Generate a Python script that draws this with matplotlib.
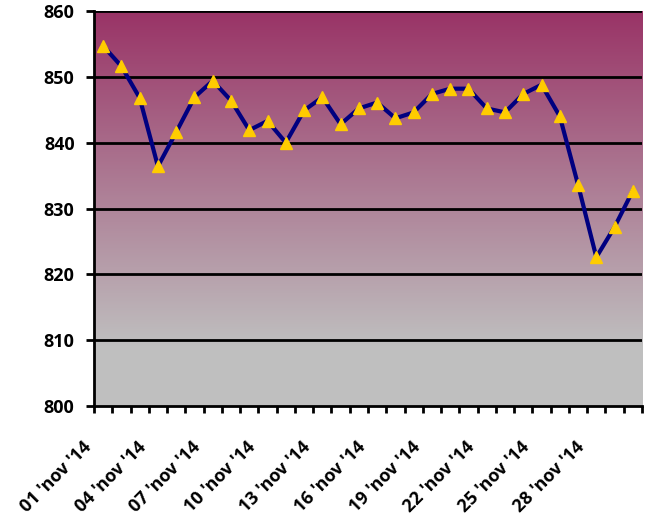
import numpy as np
import matplotlib
matplotlib.use("Agg")
import matplotlib.pyplot as plt
from matplotlib.colors import LinearSegmentedColormap
import matplotlib.transforms as mtransforms

# ----------------------- Data ---------------------------
days = [f"{d:02d} 'nov '14" for d in range(1, 31)]
values = [854.7, 851.6, 846.8, 836.4, 841.6, 846.9, 849.4, 846.4, 841.9, 843.3,
          840.0, 844.9, 846.9, 842.8, 845.2, 846.1, 843.7, 844.6, 847.4, 848.2,
          848.2, 845.2, 844.6, 847.4, 848.8, 844.0, 833.6, 822.6, 827.2, 832.7]
label_every = 3

plt.rcParams['font.family'] = ['Open Sans', 'DejaVu Sans']

# ----------------------- Plotting ---------------------------
fig = plt.figure(figsize=(6.46, 5.21), dpi=100)
ax = fig.add_axes([0.1455, 0.2207, 0.8483, 0.7582])

x = np.arange(len(values))
ax.set_xlim(-0.5, len(values) - 0.5)
ax.set_ylim(800, 860)

# gradient background (gray at bottom -> plum at top)
cmap = LinearSegmentedColormap.from_list("bg", [(0.0, "#c0c0c0"), (0.15, "#bfbfbf"), (1.0, "#993366")])
grad = np.linspace(0, 1, 256).reshape(-1, 1)
ax.imshow(grad, aspect="auto", cmap=cmap, origin="lower",
          extent=(-0.5, len(values) - 0.5, 800, 860), zorder=0)

# gridlines
for yv in range(810, 861, 10):
    ax.axhline(yv, color="black", linewidth=2, zorder=1)

ax.plot(x, values, color="#000080", linewidth=3, zorder=3)
ax.plot(x, values, linestyle="none", marker="^", markersize=8,
        markerfacecolor="#ffcc00", markeredgecolor="#ffcc00", zorder=4)

# axes styling
for side in ["top", "right"]:
    ax.spines[side].set_visible(False)
for side in ["left", "bottom"]:
    ax.spines[side].set_linewidth(2)
    ax.spines[side].set_color("black")

ax.set_yticks(range(800, 861, 10))
ax.tick_params(axis="y", length=6, width=2, pad=8, labelsize=13)
for lab in ax.get_yticklabels():
    lab.set_fontweight("bold")

# tick marks between categories, labels anchored at the left boundary of every 3rd day
ax.set_xticks(np.arange(-0.5, len(values), 1), minor=True)
ax.set_xticks(x[::label_every] - 0.5)
ax.set_xticklabels(days[::label_every], rotation=45, ha="right",
                   rotation_mode="anchor", fontsize=13, fontweight="bold")
ax.tick_params(axis="x", which="major", length=5, width=2, pad=18)
ax.tick_params(axis="x", which="minor", length=5, width=2)
shift = mtransforms.ScaledTranslation(-12 / 100, 0, fig.dpi_scale_trans)
for lab in ax.get_xticklabels():
    lab.set_transform(lab.get_transform() + shift)

plt.savefig("out.png", dpi=100)
